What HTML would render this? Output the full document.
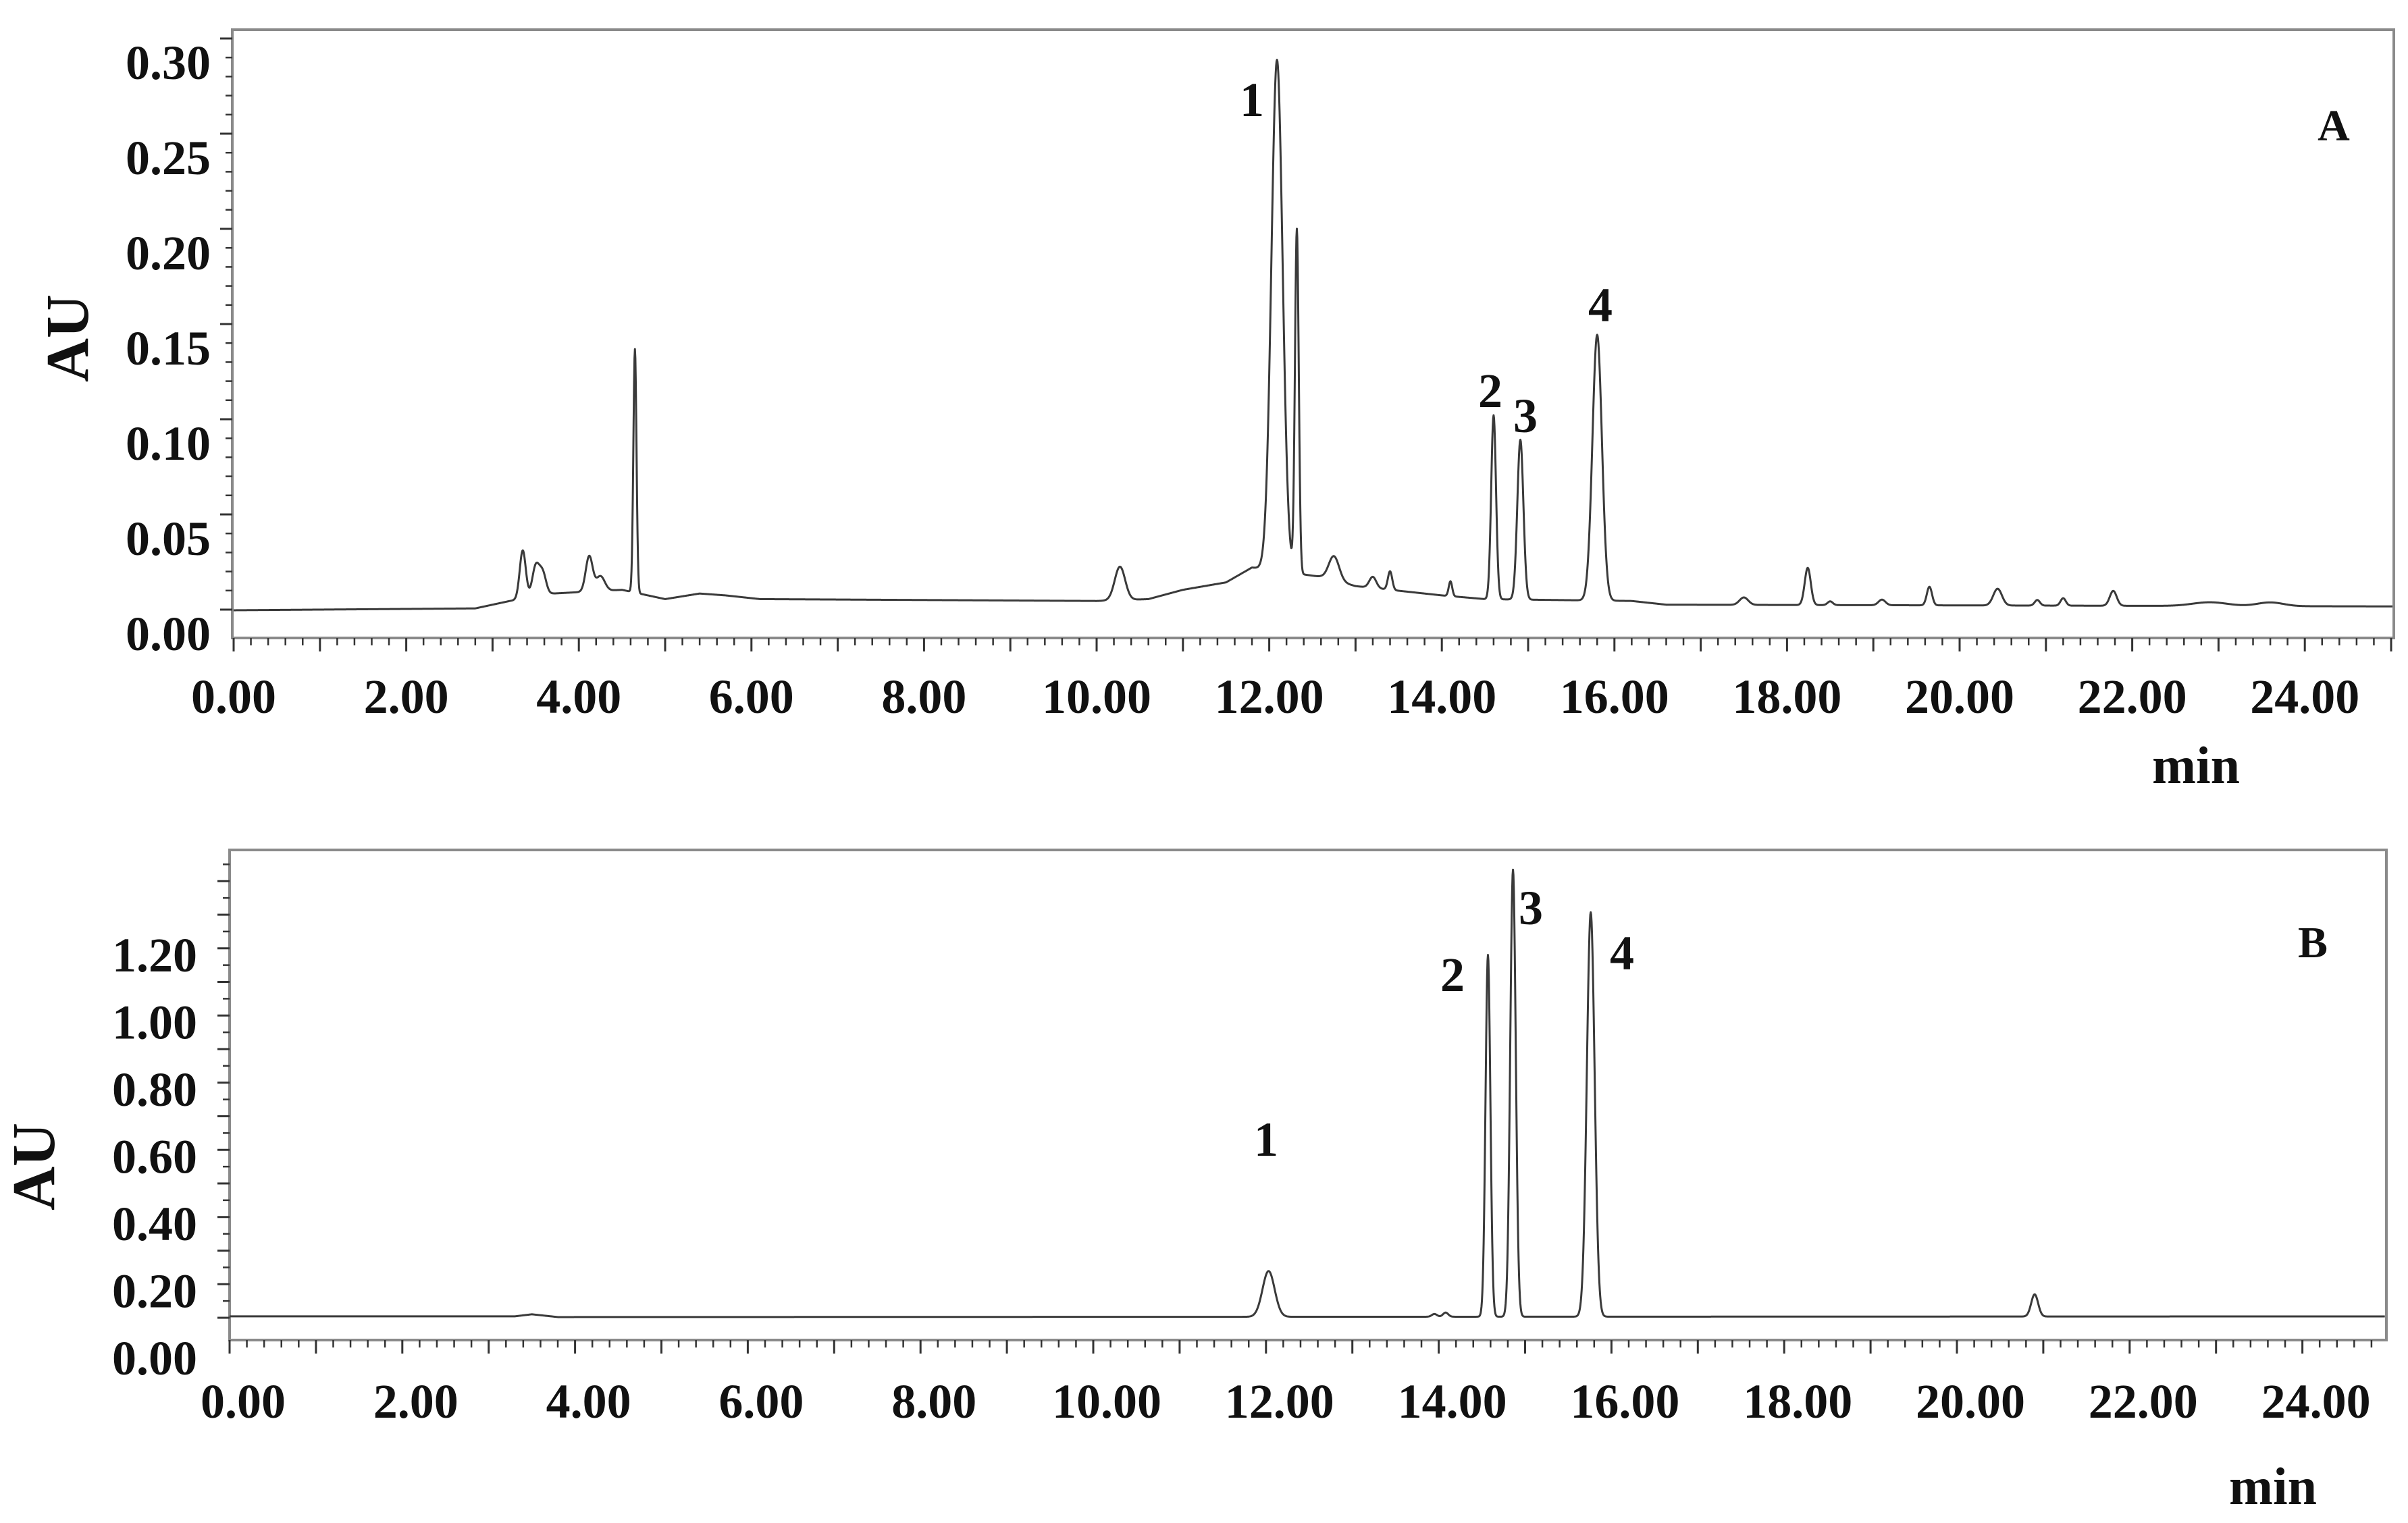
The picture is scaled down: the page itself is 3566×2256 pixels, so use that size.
<!DOCTYPE html>
<html><head><meta charset="utf-8"><style>
html,body{margin:0;padding:0;background:#fff;}
svg{display:block;}
text{font-family:"Liberation Serif",serif;font-weight:bold;fill:#111;}
</style></head>
<body>
<svg id="chart" width="3566" height="2256" viewBox="0 0 3566 2256" xmlns="http://www.w3.org/2000/svg">
  <g id="panelA"></g>
  <g id="panelB"></g>
</svg>
<script>
// ---------- Panel A data ----------
const xTickLabels = ["0.00","2.00","4.00","6.00","8.00","10.00","12.00","14.00","16.00","18.00","20.00","22.00","24.00"];
const xTickValues = [0,2,4,6,8,10,12,14,16,18,20,22,24];
const yTickValuesA = [0.00,0.05,0.10,0.15,0.20,0.25,0.30];
const yTickLabelsA = ["0.00","0.05","0.10","0.15","0.20","0.25","0.30"];
const baseTimesA = [0,2.8,3.2,3.7,4.5,5.0,5.4,5.7,6.1,10.0,10.6,11.0,11.5,11.8,12.6,13.0,14.0,14.5,16.2,16.6,25.6];
const baseValsA  = [0.012,0.013,0.017,0.021,0.023,0.018,0.021,0.020,0.018,0.017,0.018,0.023,0.027,0.035,0.030,0.025,0.020,0.018,0.017,0.015,0.014];
const peakTimesA   = [3.35,3.5,3.58,4.12,4.25,4.65,10.27,12.09,12.32,12.75,13.2,13.4,14.1,14.6,14.91,15.8,17.5,18.24,18.5,19.1,19.65,20.44,20.9,21.2,21.78,22.9,23.6];
const peakHeightsA = [0.026,0.016,0.012,0.019,0.008,0.131,0.018,0.275,0.185,0.013,0.006,0.010,0.008,0.099,0.086,0.143,0.004,0.020,0.002,0.003,0.010,0.009,0.003,0.004,0.008,0.002,0.002];
const peakWidthsA  = [0.035,0.04,0.04,0.04,0.05,0.018,0.06,0.065,0.022,0.06,0.04,0.025,0.02,0.028,0.035,0.055,0.05,0.035,0.03,0.04,0.03,0.05,0.03,0.03,0.04,0.2,0.15];
const peakLabelsA = ["1","2","3","4"];
// ---------- Panel B data ----------
const yTickValuesB = [0.00,0.20,0.40,0.60,0.80,1.00,1.20];
const yTickLabelsB = ["0.00","0.20","0.40","0.60","0.80","1.00","1.20"];
const baseTimesB = [0,3.3,3.5,3.8,25.6];
const baseValsB  = [0.119,0.119,0.125,0.117,0.119];
const peakTimesB   = [12.03,13.95,14.08,14.57,14.86,15.76,20.9];
const peakHeightsB = [0.132,0.008,0.012,1.044,1.29,1.167,0.064];
const peakWidthsB  = [0.07,0.03,0.03,0.028,0.032,0.045,0.04];
const peakLabelsB = ["1","2","3","4"];

const NS = "http://www.w3.org/2000/svg";
function mk(parent, tag, attrs, txt){
  const e = document.createElementNS(NS, tag);
  for (const k in attrs) e.setAttribute(k, attrs[k]);
  if (txt !== undefined) e.textContent = txt;
  parent.appendChild(e);
  return e;
}
function interp(ts, vs, t){
  for (let i=1;i<ts.length;i++){ if (t<=ts[i]){ const f=(t-ts[i-1])/(ts[i]-ts[i-1]); return vs[i-1]+f*(vs[i]-vs[i-1]); } }
  return vs[vs.length-1];
}
function signal(bt,bv,pt,ph,pw,t){
  let v = interp(bt,bv,t);
  for (let i=0;i<pt.length;i++){ const d=(t-pt[i])/pw[i]; if (Math.abs(d)<8) v += ph[i]*Math.exp(-0.5*d*d); }
  return v;
}

function drawPanel(g, cfg){
  const {left,top,right,bottom,x,y,yTick,yVals,yLabs,yLabelRight,yLabelOff,xLabelY,xLabelOff,minor,majorStep,yMax} = cfg;
  // frame
  const frame = mk(g,'rect',{x:left,y:top,width:right-left,height:bottom-top,fill:'none',stroke:'#8a8a8a','stroke-width':4});
  
  
  // x ticks
  const xt = mk(g,'g',{});
  
  
  for (let i=0;i<=128;i++){
    const t=i*0.2; const px=x(t); if (px>right+2) break;
    const isMaj = (i%5===0);
    mk(xt,'line',{x1:px,y1:bottom,x2:px,y2:bottom+(isMaj?20:11),stroke:'#333','stroke-width':isMaj?3:2.5});
  }
  xTickValues.forEach((v,i)=>{
    const l = mk(g,'text',{x:x(v)+xLabelOff,y:xLabelY,'font-size':72,'text-anchor':'middle'},xTickLabels[i]);
    
    
  });
  // y ticks
  const yt = mk(g,'g',{});
  
  
  for (let i=0;;i++){
    const v=i*minor; const py=yTick(v); if (py<top+4) break;
    const isMaj = (Math.abs(v/majorStep-Math.round(v/majorStep))<1e-6);
    mk(yt,'line',{x1:left,y1:py,x2:left-(isMaj?18:10),y2:py,stroke:'#333','stroke-width':isMaj?3:2.5});
  }
  yVals.forEach((v,i)=>{
    const l = mk(g,'text',{x:yLabelRight,y:yTick(v)+yLabelOff,'font-size':72,'text-anchor':'end'},yLabs[i]);
    
    
  });
  // trace
  let d='';
  for (let t=0;t<=25.6;t+=0.005){
    const v=signal(cfg.bt,cfg.bv,cfg.pt,cfg.ph,cfg.pw,t);
    const px=x(t); if (px>right-2) break;
    d += (d?'L':'M')+px.toFixed(2)+' '+y(v).toFixed(2);
  }
  const p = mk(g,'path',{d:d,fill:'none',stroke:'#3a3a3a','stroke-width':3,'stroke-linejoin':'round'});
  
  
}

// Panel A
const xA = t => 346 + 127.8*t;
const yA = v => 937 - 2753*v;
const yTickA = v => 903 - 2820*v;
const gA = document.getElementById('panelA');
drawPanel(gA,{left:344,top:44,right:3545,bottom:945,x:xA,y:yA,yTick:yTickA,yVals:yTickValuesA,yLabs:yTickLabelsA,
  yLabelRight:312,yLabelOff:60,xLabelY:1056,xLabelOff:0,minor:0.01,majorStep:0.05,
  bt:baseTimesA,bv:baseValsA,pt:peakTimesA,ph:peakHeightsA,pw:peakWidthsA});
// Panel B
const xB = t => 340 + 127.9*t;
const yB = v => 2011 - 513.3*v;
const yTickB = v => 1952 - 497.5*v;
const gB = document.getElementById('panelB');
drawPanel(gB,{left:340,top:1259,right:3534,bottom:1985,x:xB,y:yB,yTick:yTickB,yVals:yTickValuesB,yLabs:yTickLabelsB,
  yLabelRight:292,yLabelOff:84,xLabelY:2100,xLabelOff:20,minor:0.05,majorStep:0.1,
  bt:baseTimesB,bv:baseValsB,pt:peakTimesB,ph:peakHeightsB,pw:peakWidthsB});

// annotations A
const annA = [[1854,172],[2207,603],[2259,640],[2370,476]];
annA.forEach((a,i)=>{
  const l = mk(gA,'text',{x:a[0],y:a[1],'font-size':72,'text-anchor':'middle'},peakLabelsA[i]);
  
  
});
const annB = [[1875,1712],[2151,1468],[2267,1369],[2402,1436]];
annB.forEach((a,i)=>{
  const l = mk(gB,'text',{x:a[0],y:a[1],'font-size':72,'text-anchor':'middle'},peakLabelsB[i]);
  
  
});
let t;
t = mk(gA,'text',{x:3456,y:208,'font-size':66,'text-anchor':'middle'},'A');


t = mk(gB,'text',{x:3425,y:1418,'font-size':66,'text-anchor':'middle'},'B');


t = mk(gA,'text',{x:3252,y:1160,'font-size':78,'text-anchor':'middle'},'min');


t = mk(gB,'text',{x:3366,y:2228,'font-size':78,'text-anchor':'middle'},'min');


t = mk(gA,'text',{x:0,y:0,'font-size':90,'text-anchor':'middle',transform:'translate(130,501) rotate(-90)'},'AU');


t = mk(gB,'text',{x:0,y:0,'font-size':90,'text-anchor':'middle',transform:'translate(80,1728) rotate(-90)'},'AU');


</script>
</body></html>
